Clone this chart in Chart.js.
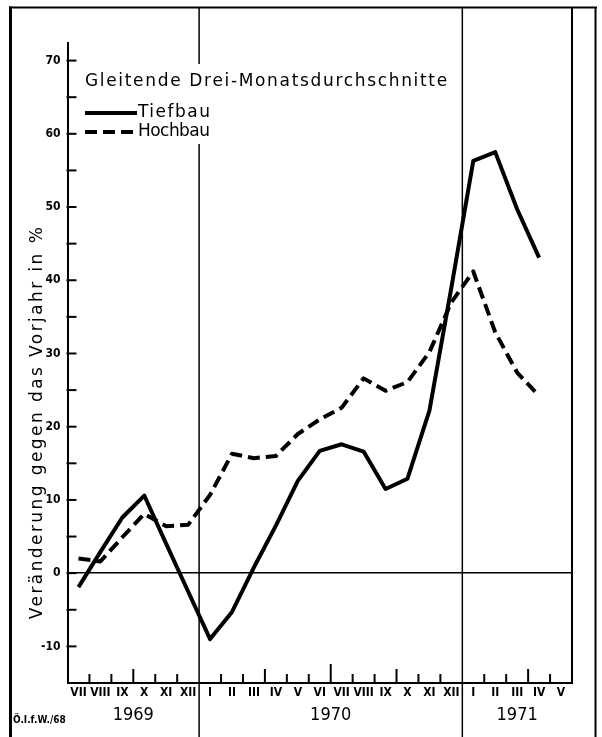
<!DOCTYPE html>
<html><head><meta charset="utf-8">
<script src="https://cdn.jsdelivr.net/npm/chart.js@4.4.1/dist/chart.umd.min.js"></script>
<style>html,body{margin:0;padding:0;background:#fff;} #wrap{width:602px;height:737px;position:relative;}</style>
</head><body><div id="wrap"><canvas id="c" width="602" height="737"></canvas></div>
<script>
// ---- data ----
const months = ['VII','VIII','IX','X','XI','XII','I','II','III','IV','V','VI','VII','VIII','IX','X','XI','XII','I','II','III','IV','V'];
const years = ['1969','1970','1971'];
const monthsPerYear = [6, 12, 5];
const tiefbau = [-1.9, 2.9, 7.6, 10.6, 4.0, -2.5, -9.0, -5.3, 0.8, 6.5, 12.6, 16.7, 17.6, 16.6, 11.5, 12.9, 22.2, 39.0, 56.3, 57.5, 49.7, 43.1, null];
const hochbau = [2.0, 1.6, 4.9, 8.1, 6.4, 6.6, 10.7, 16.3, 15.7, 16.0, 19.0, 21.0, 22.6, 26.6, 24.9, 26.1, 30.2, 37.0, 41.2, 32.9, 27.4, 24.2, null];
const yTickLabels = [70, 60, 50, 40, 30, 20, 10, 0, -10];
const seriesNames = ['Tiefbau', 'Hochbau'];
const legendTitle = 'Gleitende Drei-Monatsdurchschnitte';
const yTitle = 'Veränderung gegen das Vorjahr in %';
const credit = 'Ö.I.f.W./68';

const FONT = '"DejaVu Sans", sans-serif';
const FONT_C = '"DejaVu Sans Condensed", "DejaVu Sans", sans-serif';

function seg(ctx, x1, y1, x2, y2, w) {
  ctx.lineWidth = w; ctx.beginPath(); ctx.moveTo(x1, y1); ctx.lineTo(x2, y2); ctx.stroke();
}
function fitText(ctx, text, x, y, width) {
  const w = ctx.measureText(text).width;
  if ('letterSpacing' in ctx) {
    ctx.letterSpacing = ((width - w) / (text.length - 1)).toFixed(2) + 'px';
  }
  ctx.fillText(text, x, y);
  if ('letterSpacing' in ctx) ctx.letterSpacing = '0px';
}

const deco = {
  id: 'deco',
  beforeDraw(chart) {
    const ctx = chart.ctx;
    ctx.save(); ctx.fillStyle = '#fff'; ctx.fillRect(0, 0, chart.width, chart.height); ctx.restore();
  },
  beforeDatasetsDraw(chart) {
    const { ctx, chartArea: a, scales: { x, y } } = chart;
    ctx.save();
    ctx.strokeStyle = '#000';
    const half = (x.getPixelForValue(1) - x.getPixelForValue(0)) / 2;
    let idx = 0; const yb = new Set();
    for (let k = 0; k < monthsPerYear.length - 1; k++) {
      idx += monthsPerYear[k]; yb.add(idx);
      const px = x.getPixelForValue(idx) - half;
      seg(ctx, px, 7, px, chart.height, 1.5);
    }
    seg(ctx, a.right, 7, a.right, a.bottom, 2);
    for (let i = 1; i < months.length; i++) {
      if (yb.has(i)) continue;
      const px = x.getPixelForValue(i) - half;
      const m = months[i];
      const h = m === 'VII' ? 19 : (m === 'X' || m === 'IV') ? 14 : 9;
      seg(ctx, px, a.bottom, px, a.bottom - h, 2);
    }
    for (let v = -10; v <= 70; v += 5) {
      const py = y.getPixelForValue(v);
      seg(ctx, a.left - 1, py, a.left + 9, py, 2);
    }
    ctx.restore();
  },
  afterDraw(chart) {
    const { ctx, chartArea: a, scales: { x, y } } = chart;
    ctx.save();
    ctx.strokeStyle = '#000'; ctx.fillStyle = '#000';
    seg(ctx, 10.5, 6.5, 10.5, chart.height, 3);
    seg(ctx, 9, 7.5, 597, 7.5, 2);
    seg(ctx, 595.5, 7, 595.5, chart.height, 2);
    ctx.fillStyle = '#fff';
    ctx.fillRect(78, 64, 378, 80);
    ctx.fillStyle = '#000';
    ctx.textBaseline = 'middle'; ctx.textAlign = 'left';
    ctx.font = '17px ' + FONT;
    fitText(ctx, legendTitle, 85, 82, 362);
    const ds = chart.data.datasets;
    const rows = [113, 132];
    ds.forEach((d, i) => {
      ctx.save();
      ctx.strokeStyle = d.borderColor; ctx.lineWidth = d.borderWidth;
      ctx.setLineDash(d.borderDash || []);
      ctx.beginPath(); ctx.moveTo(85, rows[i]); ctx.lineTo(137, rows[i]); ctx.stroke();
      ctx.restore();
      ctx.font = '17px ' + FONT;
      fitText(ctx, d.label, 138, rows[i], 72);
    });
    ctx.save();
    ctx.translate(38, 422); ctx.rotate(-Math.PI / 2);
    ctx.textAlign = 'center'; ctx.textBaseline = 'middle';
    ctx.font = '17px ' + FONT;
    fitText(ctx, yTitle, 0, 0, 392);
    ctx.restore();
    const half = (x.getPixelForValue(1) - x.getPixelForValue(0)) / 2;
    let start = 0;
    ctx.textAlign = 'center'; ctx.textBaseline = 'middle';
    ctx.font = '18px ' + FONT_C;
    years.forEach((yr, k) => {
      const end = start + monthsPerYear[k] - 1;
      const cx = (x.getPixelForValue(start) - half + x.getPixelForValue(end) + half) / 2;
      ctx.fillText(yr, cx, 715);
      start = end + 1;
    });
    ctx.textAlign = 'left';
    ctx.font = 'bold 10px ' + FONT_C;
    ctx.fillText(credit, 13, 720);
    ctx.restore();
  }
};

new Chart(document.getElementById('c'), {
  type: 'line',
  data: {
    labels: months,
    datasets: [
      { label: seriesNames[0], data: tiefbau, borderColor: '#000', borderWidth: 4, pointRadius: 0, tension: 0, borderJoinStyle: 'round', fill: false },
      { label: seriesNames[1], data: hochbau, borderColor: '#000', borderWidth: 4, borderDash: [12, 6], pointRadius: 0, tension: 0, borderJoinStyle: 'round', fill: false }
    ]
  },
  options: {
    responsive: false, animation: false, devicePixelRatio: 1,
    layout: { padding: { left: 0, right: 30, top: 43, bottom: 0 } },
    plugins: { legend: { display: false }, tooltip: { enabled: false } },
    scales: {
      x: {
        type: 'category', offset: true,
        grid: { display: false, offset: true, drawTicks: false },
        border: { display: true, color: '#000', width: 2 },
        ticks: { color: '#000', font: { family: FONT_C, size: 12, weight: 'bold' }, padding: 3, autoSkip: false, maxRotation: 0 },
        afterFit(s) { s.height = 54; }
      },
      y: {
        min: -15, max: 72.4,
        afterBuildTicks(s) { s.ticks = yTickLabels.map(v => ({ value: v })); },
        grid: { drawTicks: false, lineWidth: 1.5, color: c => (c.tick && c.tick.value === 0 ? '#000' : 'rgba(0,0,0,0)') },
        border: { display: true, color: '#000', width: 2 },
        ticks: { color: '#000', font: { family: FONT_C, size: 12, weight: 'bold' }, padding: 7 },
        afterFit(s) { s.width = 67.5; }
      }
    }
  },
  plugins: [deco]
});
</script></body></html>
